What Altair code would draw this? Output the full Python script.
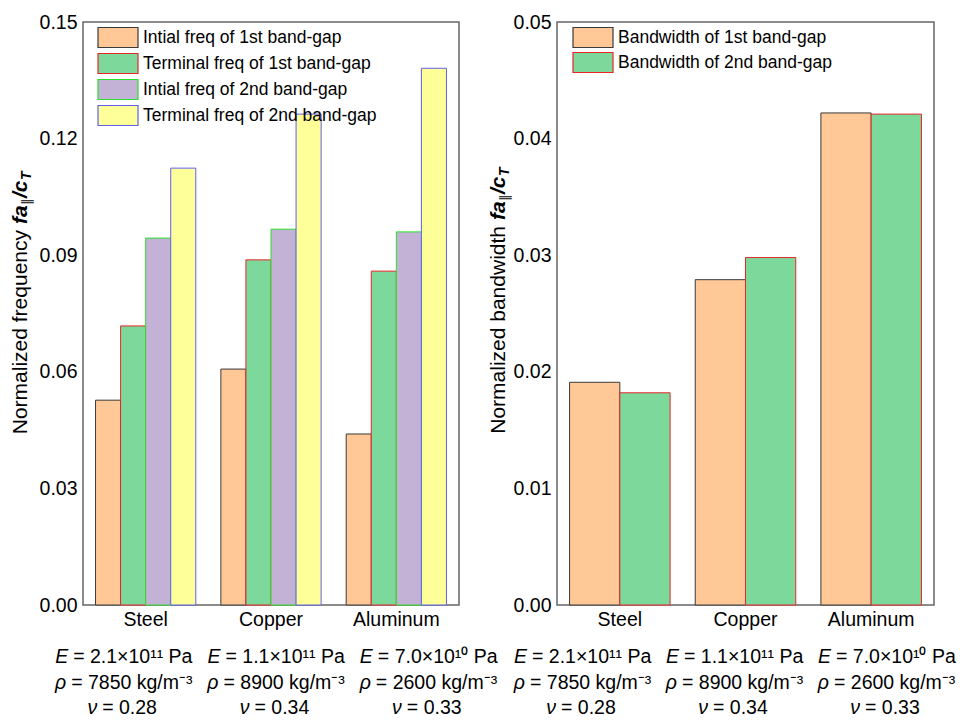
import altair as alt
import pandas as pd

materials = ["Steel", "Copper", "Aluminum"]

freq_series = ["Intial freq of 1st band-gap", "Terminal freq of 1st band-gap",
               "Intial freq of 2nd band-gap", "Terminal freq of 2nd band-gap"]
init_1st = [0.0527, 0.0607, 0.0440]
term_1st = [0.0718, 0.0888, 0.0859]
init_2nd = [0.0944, 0.0967, 0.0960]
term_2nd = [0.1124, 0.1263, 0.1381]

bw_series = ["Bandwidth of 1st band-gap", "Bandwidth of 2nd band-gap"]
bw_1st = [0.0191, 0.0279, 0.0422]
bw_2nd = [0.0182, 0.0298, 0.0421]

freq_ticks = [0.0, 0.03, 0.06, 0.09, 0.12, 0.15]
bw_ticks = [0.0, 0.01, 0.02, 0.03, 0.04, 0.05]

young = ["2.1×10¹¹", "1.1×10¹¹", "7.0×10¹⁰"]
density = ["7850", "8900", "2600"]
poisson = ["0.28", "0.34", "0.33"]

freq_fills = ["#FFC896", "#7DD89B", "#C3B1D6", "#FFFF99"]
freq_strokes = ["#3a3a3a", "#E8262A", "#2BE02B", "#6060F0"]
bw_fills = ["#FFC896", "#7DD89B"]
bw_strokes = ["#3a3a3a", "#E8262A"]

FONT = "Liberation Sans"
RECT = "M-1,-1.176H3.706V1.176H-1Z"


def long_df(series, value_lists):
    rows = []
    for s, vals in zip(series, value_lists):
        for m, v in zip(materials, vals):
            rows.append({"material": m, "series": s, "value": v})
    return pd.DataFrame(rows)


freq_df = long_df(freq_series, [init_1st, term_1st, init_2nd, term_2nd])
bw_df = long_df(bw_series, [bw_1st, bw_2nd])

ann_df = pd.DataFrame({
    "material": materials,
    "e_text": ["= " + e + " Pa" for e in young],
    "rho_text": ["= " + d + " kg/m⁻³" for d in density],
    "nu_text": ["= " + n for n in poisson],
})
one_df = pd.DataFrame({"k": [0]})


def panel(df, series, fills, strokes, ymax, ticks, word, legend_x, ann_range,
          title_x, title_y, width, row_pad):
    legend = alt.Legend(title=None, orient="none", legendX=legend_x, legendY=6,
                        symbolType=RECT, symbolSize=289, symbolStrokeWidth=1.2,
                        symbolOpacity=1, labelFontSize=17.5, labelFont=FONT,
                        labelColor="black", labelOffset=27, rowPadding=row_pad,
                        padding=0, labelLimit=400)
    bars = alt.Chart(df).mark_bar(strokeWidth=1, opacity=1).encode(
        x=alt.X("material:N", sort=materials,
                scale=alt.Scale(paddingInner=0.2, paddingOuter=0.1),
                axis=alt.Axis(title=None, labelAngle=0, ticks=False, domain=False,
                              labelFontSize=19.5, labelFont=FONT, labelPadding=5,
                              labelColor="black")),
        xOffset=alt.XOffset("series:N", sort=series,
                            scale=alt.Scale(paddingInner=0, paddingOuter=0)),
        y=alt.Y("value:Q", scale=alt.Scale(domain=[0, ymax], nice=False, zero=True),
                axis=alt.Axis(values=ticks, format=".2f", title=None, grid=False,
                              ticks=False, domain=False, labelFontSize=19.5,
                              labelFont=FONT, labelPadding=6, labelColor="black")),
        fill=alt.Fill("series:N", sort=series,
                      scale=alt.Scale(domain=series, range=fills), legend=legend),
        stroke=alt.Stroke("series:N", sort=series,
                          scale=alt.Scale(domain=series, range=strokes), legend=legend),
    )

    base = alt.Chart(ann_df).encode(
        x=alt.X("material:N", sort=materials, scale=alt.Scale(range=ann_range), axis=None)
    )
    layers = [bars]
    for letter, col, dx, ypos in [("E", "e_text", -56, 635),
                                  ("ρ", "rho_text", -58, 661),
                                  ("ν", "nu_text", -27, 686)]:
        layers.append(base.mark_text(text=letter, fontStyle="italic", align="right",
                                     baseline="middle", dx=dx, fontSize=19.5,
                                     font=FONT, color="black")
                      .encode(y=alt.value(ypos)))
        layers.append(base.mark_text(align="left", baseline="middle", dx=dx + 5,
                                     fontSize=19.5, font=FONT, color="black")
                      .encode(y=alt.value(ypos), text=alt.Text(col + ":N")))

    def tpiece(text, dx, dy, size, style, weight, align):
        return alt.Chart(one_df).mark_text(
            text=text, angle=270, align=align, baseline="alphabetic", dx=dx, dy=dy,
            fontSize=size, fontStyle=style, fontWeight=weight, font=FONT, color="black"
        ).encode(x=alt.value(title_x), y=alt.value(title_y))

    layers += [
        tpiece("Normalized " + word, 0, 0, 21, "normal", "normal", "right"),
        tpiece("fa", 6, 0, 21, "italic", "bold", "left"),
        tpiece("∥", 25, 4, 13, "normal", "normal", "left"),
        tpiece("/c", 32, 0, 21, "italic", "bold", "left"),
        tpiece("T", 50, 4, 14, "italic", "bold", "left"),
    ]
    return alt.layer(*layers).resolve_scale(x="independent").properties(
        width=width, height=583)


left = panel(freq_df, freq_series, freq_fills, freq_strokes, 0.15, freq_ticks,
             "frequency", 14, [-35, 422], -56, 208, 376, 1)
right = panel(bw_df, bw_series, bw_fills, bw_strokes, 0.05, bw_ticks,
              "bandwidth", 15, [-50, 406], -52, 204, 377, 0)

chart = alt.hconcat(left, right, spacing=98, bounds="flush").resolve_scale(
    x="independent", y="independent", xOffset="independent",
    fill="independent", stroke="independent"
).resolve_legend(fill="independent", stroke="independent").configure_view(
    stroke="#666666", strokeWidth=1.5
).properties(padding={"left": 9, "top": 11, "right": 0, "bottom": 0})

chart.save("out.html", embed_options={"renderer": "svg", "actions": False})
